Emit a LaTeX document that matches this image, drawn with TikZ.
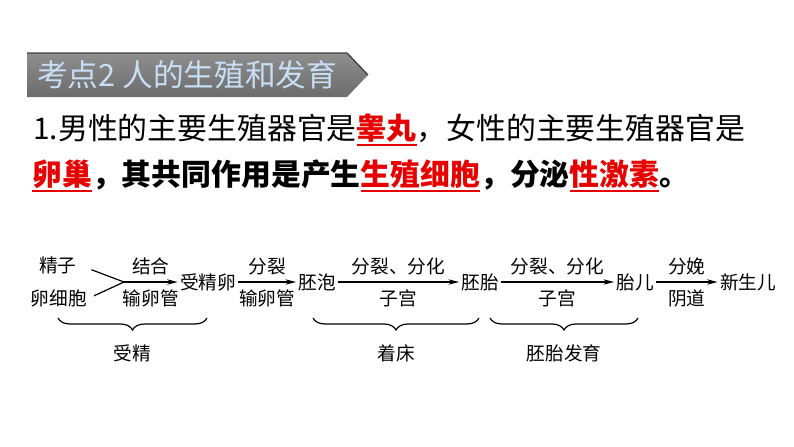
\documentclass[tikz,border=0pt]{standalone}
\usepackage{fontspec}
\setmainfont{Liberation Sans}
\newfontfamily\cjk{Noto Sans CJK SC}
\usepackage{xcolor}
\usetikzlibrary{arrows.meta, decorations.pathreplacing}
\definecolor{bannertop}{RGB}{142,142,142}
\definecolor{bannerbot}{RGB}{108,108,108}
\definecolor{titleblue}{RGB}{200,222,245}
\definecolor{keyred}{RGB}{230,0,0}
\newcommand{\keyword}[1]{{\color{keyred}\bfseries\setbox0\hbox{#1}\rlap{\rule[-0.2em]{\wd0}{1.3pt}}\box0}}

\begin{document}
\begin{tikzpicture}[x=0.75pt, y=-0.75pt,
    word/.style={font=\cjk\fontsize{14}{14}\selectfont, inner sep=1.5pt},
    abv/.style={word, above=3pt},
    blw/.style={word, below=4pt},
    flow/.style={-{Stealth[length=8pt,width=4pt]}, line width=0.9pt},
    brc/.style={decorate, decoration={brace, mirror, amplitude=9pt}, line width=0.9pt}]
    \useasboundingbox (0,0) rectangle (794,447);

    % Title banner
    \shade[top color=bannertop, bottom color=bannerbot] (27,53) -- (347,53) -- (368,75) -- (347,97) -- (27,97) -- cycle;
    \draw[black!75, line width=1pt] (27,53) -- (347,53) -- (368,75);
    \node[anchor=west, inner sep=0, text=titleblue, font=\cjk\fontsize{23}{23}\selectfont] (title) at (37,75) {考点2 人的生殖和发育};

    % Text lines
    \node[anchor=west, inner sep=0, font=\cjk\fontsize{22.4}{22.4}\selectfont] (line1) at (33,130)
        {1.男性的主要生殖器官是\keyword{睾丸}，女性的主要生殖器官是};
    \node[anchor=west, inner sep=0, font=\cjk\bfseries\fontsize{22.4}{22.4}\selectfont] (line2) at (32,176)
        {\keyword{卵巢}，其共同作用是产生\keyword{生殖细胞}，分泌\keyword{性激素}。};

    % Stages
    \node[word] (jingzi) at (58,265) {精子};
    \node[word] (luanxibao) at (59,298) {卵细胞};
    \coordinate (huihe) at (124,282);
    \node[word] (shoujingluan) at (208,282) {受精卵};
    \node[word] (peipao) at (317,282) {胚泡};
    \node[word] (peitai) at (480,282) {胚胎};
    \node[word] (taier) at (635,282) {胎儿};
    \node[word] (xinshenger) at (748,282) {新生儿};

    % Connectors
    \draw[line width=0.9pt, shorten <=10pt] (jingzi.east) -- (huihe);
    \draw[line width=0.9pt, shorten <=4pt] (luanxibao.east) -- (huihe);
    \draw[flow] (huihe) -- node[abv]{结合} node[blw]{输卵管} (shoujingluan);
    \draw[flow] (shoujingluan) -- node[abv]{分裂} node[blw]{输卵管} (peipao);
    \draw[flow] (peipao) -- node[abv]{分裂、分化} node[blw]{子宫} (peitai);
    \draw[flow] (peitai) -- node[abv]{分裂、分化} node[blw]{子宫} (taier);
    \draw[flow] (taier) -- node[abv]{分娩} node[blw]{阴道} (xinshenger);

    % Braces
    \draw[brc] (58,318) -- node[word, below=18pt]{受精} (207,318);
    \draw[brc] (313,318) -- node[word, below=18pt]{着床} (479,318);
    \draw[brc] (490,318) -- node[word, below=18pt]{胚胎发育} (638,318);
\end{tikzpicture}
\end{document}
